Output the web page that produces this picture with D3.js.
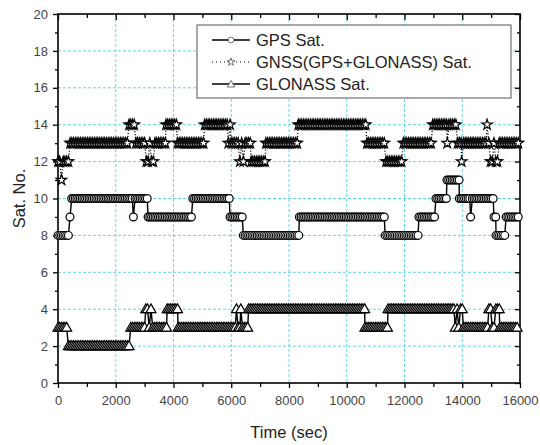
<!DOCTYPE html>
<html>
<head>
<meta charset="utf-8">
<script src="https://cdn.jsdelivr.net/npm/d3@7"></script>
<style>
  body { margin: 0; background: #fff; }
  text { font-family: "Liberation Sans", Arial, sans-serif; }
</style>
</head>
<body>
<div id="chart"></div>
<script>
// satellite counts, held from each time (sec) until the next one
const gpsTime = [0, 415, 475, 2610, 2670, 3120, 4670, 5960, 6420, 8360, 11330, 12500, 13090, 13470, 13900, 14290, 14350, 15100, 15170, 15520];
const gpsSat = [8, 9, 10, 9, 10, 9, 10, 9, 8, 9, 8, 9, 10, 11, 10, 9, 10, 9, 8, 9];

const gnssTime = [0, 120, 180, 420, 2460, 2700, 3060, 3180, 3240, 3360, 3740, 4140, 5080, 5900, 5960, 6000, 6300, 6360, 6420, 6480, 6690, 7200, 8320, 10700, 11360, 11960, 12980, 13480, 13540, 13840, 13980, 14040, 14860, 14920, 14980, 15100, 15160, 15280];
const gnssSat = [12, 11, 12, 13, 14, 13, 12, 13, 12, 13, 14, 13, 14, 13, 14, 13, 12, 13, 12, 13, 12, 13, 14, 13, 12, 13, 14, 13, 14, 13, 12, 13, 14, 13, 12, 13, 12, 13];

const glonassTime = [0, 360, 2520, 3040, 3160, 3220, 3280, 3780, 4160, 6180, 6240, 6330, 6390, 6600, 10630, 11430, 13760, 13820, 13880, 13940, 14040, 14920, 15040, 15160, 15300];
const glonassSat = [3, 2, 3, 4, 3, 4, 3, 4, 3, 4, 3, 4, 3, 4, 3, 4, 3, 4, 3, 4, 3, 4, 3, 4, 3];

const endTime = 15960;
const sampleStep = 60;

const xTicks = [0, 2000, 4000, 6000, 8000, 10000, 12000, 14000, 16000];
const xMinor = [1000, 3000, 5000, 7000, 9000, 11000, 13000, 15000];
const yTicks = [0, 2, 4, 6, 8, 10, 12, 14, 16, 18, 20];
const yMinor = [1, 3, 5, 7, 9, 11, 13, 15, 17, 19];

const legendNames = ['GPS Sat.', 'GNSS(GPS+GLONASS) Sat.', 'GLONASS Sat.'];

const width = 540, height = 445;
const pLeft = 58, pRight = 520, pTop = 14, pBottom = 383;

const svg = d3.select('#chart')
  .append('svg')
  .attr('width', width)
  .attr('height', height)

const x = d3.scaleLinear().domain([0, 16000]).range([pLeft, pRight]);
const y = d3.scaleLinear().domain([0, 20]).range([pBottom, pTop]);

// grid
const grid = svg.append('g')
  .attr('stroke', '#5fdbe0')
  .attr('stroke-width', 1)
  .attr('stroke-dasharray', '3,2')
grid.selectAll('.gx')
  .data(xTicks.slice(1, -1))
  .enter()
  .append('line')
  .attr('x1', d => x(d)).attr('x2', d => x(d))
  .attr('y1', pTop).attr('y2', pBottom)
grid.selectAll('.gy')
  .data(yTicks.slice(1, -1))
  .enter()
  .append('line')
  .attr('x1', pLeft).attr('x2', pRight)
  .attr('y1', d => y(d)).attr('y2', d => y(d))

// axes
function addAxis(axis, tx, ty, labels) {
  const g = svg.append('g')
    .attr('transform', `translate(${tx},${ty})`)
    .call(axis)
  g.select('.domain').remove();
  g.selectAll('line').attr('stroke', '#000').attr('stroke-width', 1.3);
  g.selectAll('text')
    .attr('font-family', '"Liberation Sans", Arial, sans-serif')
    .style('font-size', '13px')
    .attr('fill', '#444')
  if (!labels) g.selectAll('text').remove();
  return g;
}

addAxis(d3.axisBottom(x).tickValues(xTicks).tickSize(5).tickPadding(8).tickFormat(d3.format('d')), 0, pBottom, true);
addAxis(d3.axisBottom(x).tickValues(xMinor).tickSize(4), 0, pBottom, false);
addAxis(d3.axisTop(x).tickValues(xTicks).tickSize(-6), 0, pTop, false);
addAxis(d3.axisTop(x).tickValues(xMinor).tickSize(-4), 0, pTop, false);
addAxis(d3.axisLeft(y).tickValues(yTicks).tickSize(5).tickPadding(5), pLeft, 0, true);
addAxis(d3.axisLeft(y).tickValues(yMinor).tickSize(3), pLeft, 0, false);
addAxis(d3.axisRight(y).tickValues(yTicks).tickSize(-5), pRight, 0, false);
addAxis(d3.axisRight(y).tickValues(yMinor).tickSize(-3), pRight, 0, false);

svg.append('rect')
  .attr('x', pLeft).attr('y', pTop)
  .attr('width', pRight - pLeft).attr('height', pBottom - pTop)
  .attr('fill', 'none')
  .attr('stroke', '#000')
  .attr('stroke-width', 1.6)

svg.append('text')
  .attr('x', (pLeft + pRight) / 2)
  .attr('y', 438)
  .attr('text-anchor', 'middle')
  .attr('fill', '#222')
  .style('font-size', '16.5px')
  .text('Time (sec)')

svg.append('text')
  .attr('transform', `translate(25,${(pTop + pBottom) / 2}) rotate(-90)`)
  .attr('text-anchor', 'middle')
  .attr('fill', '#222')
  .style('font-size', '16.5px')
  .text('Sat. No.')

// symbols
const circleD = d3.symbol(d3.symbolCircle, 48)();
const starD = d3.symbol(d3.symbolStar, 34)();
const triD = 'M0,-4.8L5,4L-5,4Z';

// each held value is recorded every sampleStep seconds
function samples(times, values) {
  const pts = [];
  times.forEach((t, i) => {
    const next = i < times.length - 1 ? times[i + 1] : endTime;
    d3.range(t, next, sampleStep).forEach(s => pts.push([s, values[i]]));
  });
  return pts;
}

const series = [
  { times: gpsTime, values: gpsSat, sym: circleD, dash: null, dy: 0 },
  { times: gnssTime, values: gnssSat, sym: starD, dash: '1,2', dy: 0 },
  { times: glonassTime, values: glonassSat, sym: triD, dash: null, dy: -0.5 }
];

const line = d3.line()
  .x(d => x(d[0]))
  .y(d => y(d[1]))

series.forEach(s => {
  const pts = samples(s.times, s.values);
  const g = svg.append('g');
  g.append('path')
    .attr('d', line(pts))
    .attr('fill', 'none')
    .attr('stroke', '#000')
    .attr('stroke-width', 1.4)
    .attr('stroke-dasharray', s.dash)
  g.selectAll('path.m')
    .data(pts)
    .enter()
    .append('path')
    .attr('class', 'm')
    .attr('d', s.sym)
    .attr('transform', d => `translate(${x(d[0])},${y(d[1]) + s.dy})`)
    .attr('fill', '#fff')
    .attr('stroke', '#000')
    .attr('stroke-width', 1.2)
});

// legend
const lg = svg.append('g');
lg.append('rect')
  .attr('x', 197).attr('y', 25)
  .attr('width', 314).attr('height', 73)
  .attr('fill', '#fff')
  .attr('stroke', '#555')
  .attr('stroke-width', 1)

legendNames.forEach((name, i) => {
  const cy = 40 + i * 22;
  const s = series[i];
  lg.append('line')
    .attr('x1', 212).attr('x2', 250)
    .attr('y1', cy).attr('y2', cy)
    .attr('stroke', '#000')
    .attr('stroke-width', s.dash ? 1 : 1.6)
    .attr('stroke-dasharray', s.dash ? '1,3' : null)
  lg.append('path')
    .attr('d', s.sym)
    .attr('transform', `translate(231,${cy}) scale(0.75)`)
    .attr('fill', '#fff')
    .attr('stroke', '#333')
    .attr('stroke-width', 0.9)
  lg.append('text')
    .attr('x', 256)
    .attr('y', cy + 6)
    .attr('fill', '#222')
    .style('font-size', '16.5px')
    .text(name)
});
</script>
</body>
</html>
